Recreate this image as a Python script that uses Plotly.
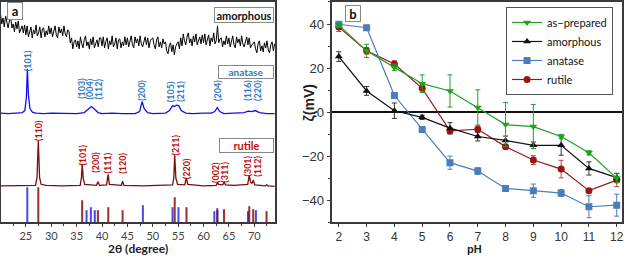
import numpy as np
import plotly.graph_objects as go

W, H = 625, 256
def px(x): return x / W
def py(y): return 1 - y / H

# ---------------- Panel a: XRD data (intensity in arbitrary units) ----------------
amor_x = list(np.arange(20.0, 74.001, 0.25))
amor_y = [209, 199, 205, 196, 207, 200, 195, 202, 206, 195, 199, 191, 201, 194, 202, 190, 195, 197, 190, 198,
          188, 197, 186, 192, 196, 185, 193, 189, 198, 187, 190, 196, 185, 194, 195, 186, 192, 188, 197, 189,
          195, 186, 193, 197, 188, 185, 196, 190, 194, 187, 197, 189, 186, 193, 191, 180, 185, 174, 181, 183,
          176, 182, 174, 186, 179, 175, 183, 187, 177, 181, 174, 184, 178, 186, 175, 180, 183, 176, 185, 185,
          177, 186, 175, 181, 185, 174, 182, 178, 187, 176, 179, 185, 174, 183, 184, 175, 181, 177, 186, 178,
          185, 176, 183, 187, 178, 175, 186, 180, 184, 177, 187, 179, 176, 183, 186, 178, 185, 175, 182, 184,
          185, 178, 174, 183, 186, 176, 181, 175, 184, 179, 181, 172, 169, 177, 180, 171, 178, 168, 176, 179,
          181, 174, 185, 177, 189, 182, 178, 186, 190, 180, 184, 177, 187, 181, 189, 178, 183, 186, 179, 188,
          180, 189, 178, 184, 188, 177, 185, 181, 190, 179, 182, 197, 180, 184, 185, 176, 182, 178, 187, 179,
          185, 176, 183, 187, 178, 175, 186, 180, 184, 177, 187, 179, 176, 183, 186, 178, 185, 175, 178, 179,
          181, 174, 170, 179, 182, 172, 177, 171, 180, 175, 182, 173, 170, 178, 181, 172, 179]

anat_x = [20.0, 21.5, 23.0, 24.3, 24.8, 25.1, 25.3, 25.5, 25.8, 26.3, 27.0, 28.5, 30.0, 32.0,
          35.0, 36.5, 37.3, 37.9, 38.5, 39.2, 40.0, 42.0, 44.0, 46.5, 47.4, 47.9, 48.3, 49.0,
          50.0, 52.5, 53.3, 53.9, 54.3, 54.7, 55.1, 55.6, 56.5, 58.0, 60.0, 61.5, 62.2, 62.7,
          63.2, 64.0, 66.0, 68.0, 68.8, 69.5, 70.2, 71.0, 72.5, 74.0]
anat_y = [109.5, 109, 109.5, 110, 112, 125, 154, 128, 114, 110.5, 109.5, 109, 109.5, 109,
          109, 110, 113, 116, 113.5, 110, 109, 109.5, 109, 109, 111, 121, 114, 110,
          109, 109.5, 112, 117, 116, 117.5, 117, 112, 109.5, 109, 109.5, 109.5, 111, 115,
          111, 109, 109.5, 110, 111.5, 111, 112, 110, 109, 109]

rut_x = [20.0, 23.0, 26.9, 27.2, 27.45, 27.7, 28.0, 29.0, 32.0, 35.7, 35.95, 36.1, 36.3, 36.6,
         38.9, 39.2, 39.5, 40.9, 41.2, 41.45, 43.8, 44.05, 44.3, 48.0, 53.9, 54.15, 54.32,
         54.55, 54.9, 56.3, 56.6, 56.9, 60.0, 62.5, 62.75, 62.95, 63.8, 64.05, 64.3, 66.0,
         68.7, 69.0, 69.3, 69.55, 69.8, 70.1, 72.2, 72.45, 72.7, 74.0]
rut_y = [36.5, 36.5, 37, 45, 82, 45, 38, 37, 36.5, 37, 45, 58.5, 44, 38,
         37, 40.5, 37, 37.5, 48, 38, 37, 41, 37, 36.5, 37.5, 45, 67,
         44, 38, 37.5, 44.5, 38, 36.5, 37, 40, 38, 37.5, 40.5, 37.5, 37,
         38, 47, 40, 39, 42, 37.5, 36.5, 37.5, 36.5, 36]

# reference stick patterns (position, relative height)
anat_ref_pos = [25.28, 36.95, 37.80, 38.57, 48.05, 53.89, 55.06, 62.12, 62.69, 68.76, 70.31]
anat_ref_h = [35, 12, 15, 12, 17, 15, 15, 11, 14, 11, 12]
rut_ref_pos = [27.45, 36.09, 39.19, 41.23, 44.05, 54.32, 56.64, 62.74, 64.04, 69.01, 69.79, 72.41]
rut_ref_h = [35, 22, 12, 15, 12, 25, 15, 12, 13, 16, 13, 11]

anat_lbl = ["(101)", "(103)", "(004)", "(112)", "(200)", "(105)", "(211)", "(204)", "(116)", "(220)"]
anat_lbl_x = [25.3, 35.9, 37.6, 39.4, 47.9, 53.5, 55.4, 62.7, 68.6, 70.6]
anat_lbl_y = [162, 134, 134, 134, 132, 131, 131, 132, 132, 132]
rut_lbl = ["(110)", "(101)", "(200)", "(111)", "(120)", "(211)", "(220)", "(002)", "(311)", "(301)", "(112)"]
rut_lbl_x = [27.5, 36.1, 38.7, 41.0, 44.0, 54.4, 56.7, 62.4, 64.1, 68.6, 70.6]
rut_lbl_y = [92, 67, 60, 59, 59, 77, 54, 50, 50, 56, 56]

# ---------------- Panel b: zeta potential ----------------
pH = [2, 3, 4, 5, 6, 7, 8, 9, 10, 11, 12]
as_prepared = [39.5, 27.8, 20.3, 12.9, 9.6, 2.1, -5.7, -6.6, -11.1, -18.5, -30.0]
as_prepared_err = [1, 3, 1.5, 4, 7.3, 8, 10, 10, 1, 1, 2]
amorphous = [25.2, 9.6, 0.6, -2.4, -7.3, -11.1, -12.9, -15.1, -15.1, -25.6, -29.8]
amorphous_err = [2.2, 2, 3.5, 1, 2.5, 2, 2, 1.5, 4.5, 3, 2]
anatase = [39.9, 38.3, 7.5, -7.9, -23.0, -26.8, -34.7, -35.7, -36.8, -43.0, -42.3]
anatase_err = [0.8, 0.8, 0.8, 0.8, 3, 1.5, 1, 3, 1.5, 5, 5]
rutile = [38.6, 27.8, 21.8, 10.8, -8.5, -7.8, -15.7, -21.8, -25.9, -35.7, -30.9]
rutile_err = [2, 1.5, 1.5, 1.2, 1.5, 1.5, 1, 2, 4, 1, 3]

fig = go.Figure()

def sticks(pos, h):
    xs, ys = [], []
    for p, v in zip(pos, h):
        xs += [p, p, None]
        ys += [0, v, None]
    return xs, ys

ax, ay = sticks(anat_ref_pos, anat_ref_h)
rx, ry = sticks(rut_ref_pos, rut_ref_h)
fig.add_trace(go.Scatter(x=ax, y=ay, mode="lines", line=dict(color="#2a2ae8", width=2),
                         opacity=0.85, showlegend=False, xaxis="x", yaxis="y"))
fig.add_trace(go.Scatter(x=rx, y=ry, mode="lines", line=dict(color="#8b0a0a", width=2),
                         opacity=0.85, showlegend=False, xaxis="x", yaxis="y"))
fig.add_trace(go.Scatter(x=amor_x, y=amor_y, mode="lines", line=dict(color="black", width=1),
                         showlegend=False, xaxis="x", yaxis="y"))
fig.add_trace(go.Scatter(x=anat_x, y=anat_y, mode="lines", line=dict(color="#1010ee", width=1.3),
                         showlegend=False, xaxis="x", yaxis="y"))
fig.add_trace(go.Scatter(x=rut_x, y=rut_y, mode="lines", line=dict(color="#7a0c0c", width=1.3),
                         showlegend=False, xaxis="x", yaxis="y"))

series = [
    ("rutile", rutile, rutile_err, "#9b1414", "#c04040", "circle", 4),
    ("anatase", anatase, anatase_err, "#4a7ebb", "#4a7ebb", "square", 3),
    ("amorphous", amorphous, amorphous_err, "#111111", "#333333", "triangle-up", 2),
    ("as−prepared", as_prepared, as_prepared_err, "#22a022", "#22a022", "triangle-down", 1),
]
for name, vals, err, col, ecol, sym, rank in series:
    fig.add_trace(go.Scatter(
        x=pH, y=vals, name=name, mode="lines+markers",
        line=dict(color=col, width=1.2),
        marker=dict(symbol=sym, size=7, color=col),
        error_y=dict(type="data", array=err, visible=True, color=ecol, thickness=1, width=2.5),
        legendrank=rank, xaxis="x2", yaxis="y2"))

ydom = [py(222), py(1)]
axis_common = dict(showline=True, mirror=True, linecolor="#3a3a3a", linewidth=1.5,
                   showgrid=False, zeroline=False)

fig.update_layout(
    width=W, height=H, margin=dict(l=0, r=0, t=0, b=0),
    paper_bgcolor="white", plot_bgcolor="white",
    xaxis=dict(domain=[px(1), px(276)], range=[20.1, 74.1], anchor="y",
               tickvals=[25, 30, 35, 40, 45, 50, 55, 60, 65, 70], ticks="outside", ticklen=3,
               tickcolor="#3a3a3a", minor=dict(dtick=2.5, tick0=0, ticks="outside", ticklen=2, tickcolor="#3a3a3a"),
               tickfont=dict(family="Lato", size=11, color="#444"), **axis_common),
    yaxis=dict(domain=ydom, range=[0, 221], anchor="x", showticklabels=False, ticks="", **axis_common),
    xaxis2=dict(domain=[px(333.5), px(624)], range=[1.77, 12.19], anchor="y2",
                tickvals=pH, ticks="outside", ticklen=3, tickcolor="#3a3a3a", ticklabeloverflow="allow",
                tickfont=dict(family="Liberation Sans", size=12, color="#333"), **axis_common),
    yaxis2=dict(domain=ydom, range=[-50, 50], anchor="x2",
                tickvals=[-40, -20, 0, 20, 40], ticks="outside", ticklen=4, tickcolor="#3a3a3a",
                minor=dict(dtick=10, tick0=0, ticks="outside", ticklen=3, tickcolor="#3a3a3a"),
                tickfont=dict(family="Liberation Sans", size=13, color="#333"),
                showline=True, mirror=True, linecolor="#3a3a3a", linewidth=1.5, showgrid=False,
                zeroline=True, zerolinecolor="#111", zerolinewidth=1.5),
    legend=dict(x=px(615), y=py(6), xanchor="right", yanchor="top",
                bgcolor="white", bordercolor="#555", borderwidth=1,
                font=dict(family="Lato", size=11, color="#111"),
                itemwidth=30, tracegroupgap=0),
)

ann = []
for t, x, y in zip(anat_lbl, anat_lbl_x, anat_lbl_y):
    ann.append(dict(text="<b>%s</b>" % t, x=x, y=y, xref="x", yref="y", textangle=-90, showarrow=False,
                    xanchor="center", yanchor="middle",
                    font=dict(family="Lato", size=9, color="#2f7ac4")))
for t, x, y in zip(rut_lbl, rut_lbl_x, rut_lbl_y):
    ann.append(dict(text="<b>%s</b>" % t, x=x, y=y, xref="x", yref="y", textangle=-90, showarrow=False,
                    xanchor="center", yanchor="middle",
                    font=dict(family="Lato", size=9, color="#c01010")))

def box(text, cx, cy, w, h, color, size):
    return dict(text="<b>%s</b>" % text, x=px(cx), y=py(cy), xref="paper", yref="paper",
                showarrow=False, xanchor="center", yanchor="middle", width=w, height=h,
                bordercolor="#888", borderwidth=1, bgcolor="white", borderpad=0,
                font=dict(family="Lato", size=size, color=color))

ann.append(box("amorphous", 244.5, 14, 58, 14, "#111", 11))
ann.append(box("anatase", 246.5, 71.5, 54, 12, "#2f7ac4", 10))
ann.append(box("rutile", 247, 145.5, 53, 13, "#c01010", 11))
ann.append(box("a", 15.5, 10.5, 14, 16, "#111", 13))
ann.append(box("b", 354.5, 13, 14, 15, "#111", 13))
ann.append(dict(text="<b>2θ (degree)</b>", x=px(138), y=py(248), xref="paper", yref="paper",
                xanchor="center", yanchor="middle",
                showarrow=False, font=dict(family="Lato", size=12, color="#222")))
ann.append(dict(text="<b>pH</b>", x=px(476), y=py(248.5), xref="paper", yref="paper",
                xanchor="center", yanchor="middle",
                showarrow=False, font=dict(family="Liberation Sans", size=11, color="#222")))
ann.append(dict(text="<b>ζ(mV)</b>", x=px(310), y=py(102), xref="paper", yref="paper",
                xanchor="center", yanchor="middle",
                textangle=-90, showarrow=False, font=dict(family="Liberation Sans", size=14, color="#222")))
fig.update_layout(annotations=ann)

fig.write_html("out.html", config={"displayModeBar": False},
               post_script="document.body.style.margin='0px';document.body.style.overflow='hidden';")
